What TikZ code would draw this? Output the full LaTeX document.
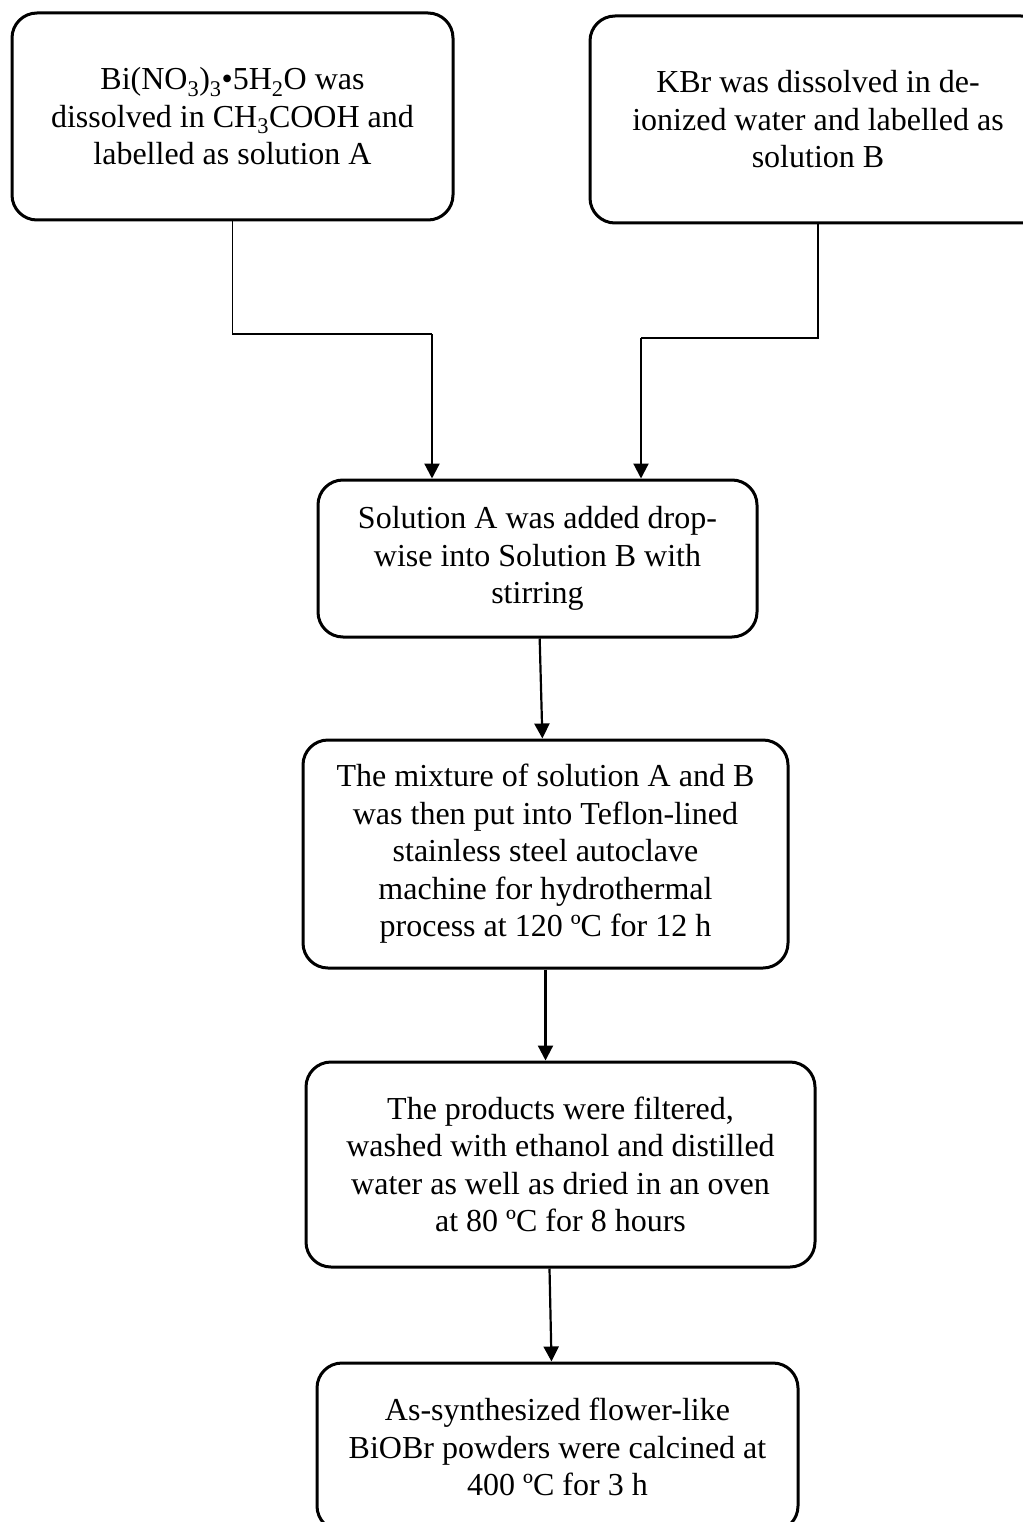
\documentclass[tikz,border=0pt]{standalone}
\usepackage{fontspec}
\setmainfont{Liberation Serif}
\usetikzlibrary{arrows.meta, positioning}
\tikzset{
  every picture/.style={line width=1.2pt},
  box/.style={draw, rounded corners=25pt, align=center, line width=3pt, inner sep=0pt, font=\fontsize{32}{37.5}\selectfont},
  arrow/.style={-{Triangle[length=15pt, width=15pt]}, line width=2.2pt},
  link/.style={line width=1.2pt},
}

\begin{document}
\begin{tikzpicture}[x=1pt, y=-1pt]
  \useasboundingbox (0, 0) rectangle (1022, 1522);
  \node[box, minimum width=441pt, minimum height=207pt] (solA) at (232.5, 116.5) {Bi(NO\textsubscript{3})\textsubscript{3}•5H\textsubscript{2}O was\\dissolved in CH\textsubscript{3}COOH and\\labelled as solution A};
  \node[box, minimum width=456pt, minimum height=207pt] (solB) at (818, 119.5) {KBr was dissolved in de-\\ionized water and labelled as\\solution B};
  \node[box, minimum width=439pt, minimum height=157pt] (mix) at (537.5, 558.5) {Solution A was added drop-\\wise into Solution B with\\stirring};
  \node[box, minimum width=485pt, minimum height=228pt] (hydro) at (545.5, 854) {The mixture of solution A and B\\was then put into Teflon-lined\\stainless steel autoclave\\machine for hydrothermal\\process at 120 ºC for 12 h};
  \node[box, minimum width=509pt, minimum height=205pt] (wash) at (560.5, 1164.5) {The products were filtered,\\washed with ethanol and distilled\\water as well as dried in an oven\\at 80 ºC for 8 hours};
  \node[box, minimum width=481pt, minimum height=168pt] (calc) at (557.5, 1447) {As-synthesized flower-like\\BiOBr powders were calcined at\\400 ºC for 3 h};
  \coordinate (ja) at (432, 334);
  \coordinate (jb) at (641, 338);
  \draw[link] (solA.south) |- (ja); \draw[arrow] (ja) -- (ja |- mix.north);
  \draw[link] (solB.south) |- (jb); \draw[arrow] (jb) -- (jb |- mix.north);
  \draw[arrow] (mix) -- (hydro);
  \draw[arrow] (hydro.south) -- (hydro.south |- wash.north);
  \draw[arrow] ([xshift=-11pt]wash.south) -- ([xshift=-6pt]calc.north);
\end{tikzpicture}
\end{document}
